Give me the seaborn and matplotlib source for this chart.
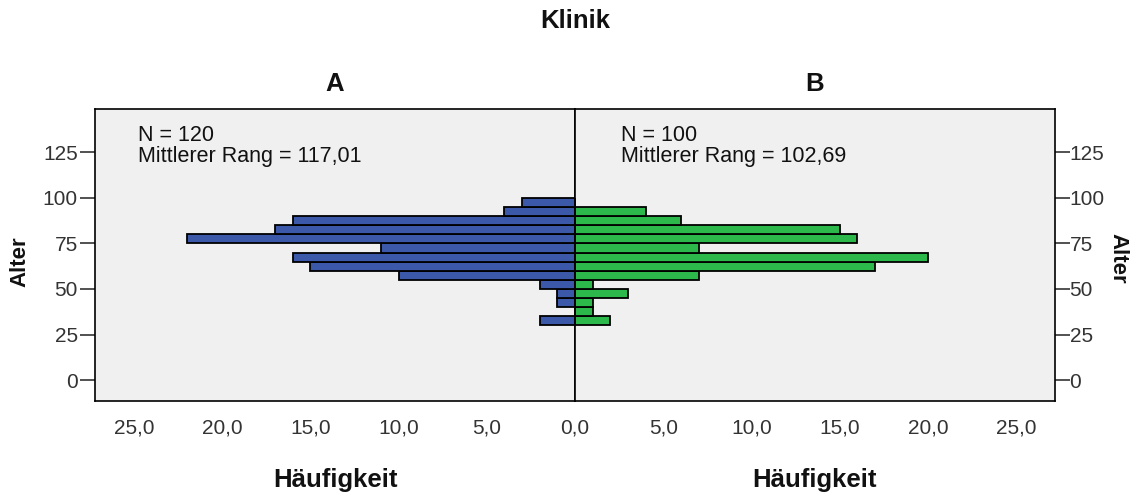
import numpy as np
import matplotlib
matplotlib.use("Agg")
import matplotlib.pyplot as plt
import seaborn as sns
from matplotlib.ticker import FuncFormatter

# ---- data ----
bin_edges = [30, 35, 40, 45, 50, 55, 60, 65, 70, 75, 80, 85, 90, 95, 100]
bin_mids = [32.5, 37.5, 42.5, 47.5, 52.5, 57.5, 62.5, 67.5, 72.5, 77.5, 82.5, 87.5, 92.5, 97.5]
counts_A = [2, 0, 1, 1, 2, 10, 15, 16, 11, 22, 17, 16, 4, 3]
counts_B = [2, 1, 1, 3, 1, 7, 17, 20, 7, 16, 15, 6, 4, 0]
group_names = ["A", "B"]
stats_text = ["N = 120\nMittlerer Rang = 117,01", "N = 100\nMittlerer Rang = 102,69"]
y_ticks = [0, 25, 50, 75, 100, 125]
x_ticks = [0, 5, 10, 15, 20, 25]

sns.set_style("white")
plt.rcParams['font.family'] = ['Liberation Sans', 'DejaVu Sans']

W, H = 1132, 496
fig = plt.figure(figsize=(W / 100, H / 100), dpi=100)
fig.patch.set_facecolor("white")

def frac(x0, y0, x1, y1):
    return [x0 / W, 1 - y1 / H, (x1 - x0) / W, (y1 - y0) / H]

axL = fig.add_axes(frac(95, 109, 575, 401))
axR = fig.add_axes(frac(575, 109, 1055, 401))

colors = ["#3C58A8", "#2DB84B"]
xmax = 27.2
BOLD = 18.5
for ax, counts, color, name, txt in zip([axL, axR], [counts_A, counts_B], colors, group_names, stats_text):
    ax.set_facecolor("#F0F0F0")
    sns.histplot(y=bin_mids, weights=counts, bins=bin_edges, color=color,
                 edgecolor="black", linewidth=1.3, alpha=1, ax=ax)
    ax.set_ylim(-11.5, 148.8)
    ax.set_yticks(y_ticks)
    ax.set_xticks(x_ticks)
    for s in ax.spines.values():
        s.set_color("black")
        s.set_linewidth(1.2)
    ax.tick_params(axis="both", direction="out", length=10.5, width=1.2, color="#333333",
                   labelsize=15, labelcolor="#333333", pad=2)
    ax.set_xlabel("Häufigkeit", fontsize=BOLD, fontweight="bold", labelpad=22, color="#111111")
    ax.set_title(name, fontsize=BOLD, fontweight="bold", pad=13, color="#111111")
    ax.set_ylabel("")
    ax.text(0.09 if ax is axL else 0.096, 0.945, txt, transform=ax.transAxes,
            fontsize=15.5, va="top", ha="left", linespacing=0.98, color="#111111")

axL.xaxis.set_major_formatter(FuncFormatter(lambda v, p: f"{v:.1f}".replace(".", ",")))
axR.xaxis.set_major_formatter(FuncFormatter(lambda v, p: "" if v == 0 else f"{v:.1f}".replace(".", ",")))

axL.set_xlim(xmax, 0)
axR.set_xlim(0, xmax)

axL.tick_params(axis="y", left=True, right=False, labelleft=True, labelright=False)
axR.tick_params(axis="y", left=False, right=True, labelleft=False, labelright=True, pad=0)

fig.text(20 / W, 1 - 262 / H, "Alter", rotation=90, ha="center", va="center",
         fontsize=16, fontweight="bold", color="#111111")
fig.text(1118 / W, 1 - 258 / H, "Alter", rotation=270, ha="center", va="center",
         fontsize=16, fontweight="bold", color="#111111")

fig.text(575 / W, 1 - 21 / H, "Klinik", ha="center", va="center", fontsize=BOLD,
         fontweight="bold", color="#111111")

fig.savefig("out.png", dpi=100, facecolor="white")
